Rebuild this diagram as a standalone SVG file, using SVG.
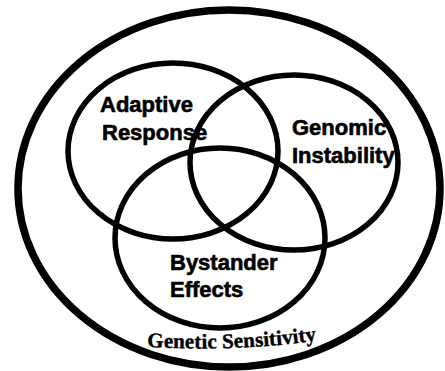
<svg xmlns="http://www.w3.org/2000/svg" width="445" height="371" viewBox="0 0 445 371">
<defs>
<style>
.ring{fill:none;stroke:#000;stroke-width:5.5}
.outer{fill:none;stroke:#000;stroke-width:7.5}
.lbl{font-family:"Liberation Sans",Arial,sans-serif;font-weight:bold;font-size:22px;fill:#000;stroke:#000;stroke-width:0.6}
.sub{font-family:"Liberation Serif","Times New Roman",serif;font-weight:bold;font-size:21px;fill:#000;stroke:#000;stroke-width:0.4}
</style>
<path id="arc" d="M147,347 Q240,352 320,340"/>
</defs>
<rect width="445" height="371" fill="#fff"/>
<g id="genetic-sensitivity">
<ellipse class="outer" cx="229" cy="188.5" rx="211" ry="178.5"/>
<text class="sub"><textPath href="#arc" textLength="170">Genetic Sensitivity</textPath></text>
</g>
<g id="adaptive-response">
<ellipse class="ring" cx="173" cy="151" rx="105" ry="88"/>
</g>
<g id="genomic-instability">
<ellipse class="ring" cx="294" cy="162.5" rx="104" ry="87.5"/>
</g>
<g id="bystander-effects">
<ellipse class="ring" cx="220" cy="238" rx="105" ry="90"/>
</g>
<g id="labels">
<text class="lbl" x="100" y="112">Adaptive</text>
<text class="lbl" x="102" y="140">Response</text>
<text class="lbl" x="292" y="135">Genomic</text>
<text class="lbl" x="292" y="163">Instability</text>
<text class="lbl" x="170" y="270">Bystander</text>
<text class="lbl" x="170" y="297">Effects</text>
</g>
</svg>
